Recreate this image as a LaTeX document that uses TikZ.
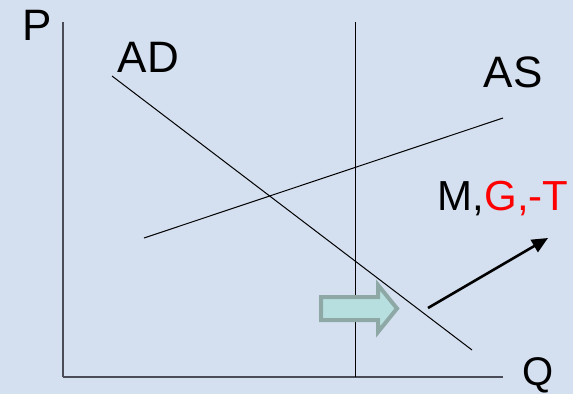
\documentclass[tikz,border=0pt]{standalone}
\usepackage{fontspec}
\setmainfont{Liberation Sans}
\usetikzlibrary{arrows.meta}
\begin{document}
\begin{tikzpicture}[x=1pt,y=-1pt,
  lbl/.style={inner sep=0pt,anchor=base,font=\fontsize{44}{44}\selectfont},
  thin line/.style={line width=1pt,black},
  shift arrow/.style={fill=arrowfill,draw=arrowedge,line width=4pt,line join=miter}]
\definecolor{bg}{HTML}{D4DFEF}
\definecolor{axisgray}{HTML}{4A4C58}
\definecolor{arrowfill}{HTML}{B8DFE0}
\definecolor{arrowedge}{HTML}{8EA9A5}
\fill[bg] (0,0) rectangle (573,394);
\useasboundingbox (0,0) rectangle (573,394);
% axes
\coordinate (ytop) at (63,22);
\coordinate (origin) at (63,377);
\coordinate (xend) at (503,377);
\draw[line width=1.2pt,axisgray] (ytop) -- (origin);
\draw[line width=2pt,axisgray] (origin) -- (xend);
% long-run vertical supply
\coordinate (lrtop) at (355,22);
\coordinate (lrbot) at (355,377);
\draw[thin line] (lrtop) -- (lrbot);
% demand and supply curves
\coordinate (ad1) at (112,76);
\coordinate (ad2) at (472,350);
\draw[thin line] (ad1) -- (ad2);
\coordinate (as1) at (144,238);
\coordinate (as2) at (503,118);
\draw[thin line] (as1) -- (as2);
% labels
\node[lbl] (P) at (37,40) {P};
\node[lbl] (AD) at (148.5,72) {AD};
\node[lbl] (AS) at (513,87) {AS};
\node[lbl,font=\fontsize{40}{40}\selectfont] (Q) at (538,385) {Q};
\node[lbl,font=\fontsize{42}{42}\selectfont] (MGT) at (503,210) {M,\textcolor{red}{G,-T}};
% policy effect arrow
\coordinate (pa1) at (428,308);
\coordinate (pa2) at (548,238);
\draw[line width=2.6pt,-{Triangle[length=16pt,width=14pt]}] (pa1) -- (pa2);
% shift arrow
\draw[shift arrow] (321,297) -- (378,297) -- (378,285) -- (397,308.5) -- (378,332) -- (378,320) -- (321,320) -- cycle;
\end{tikzpicture}
\end{document}
